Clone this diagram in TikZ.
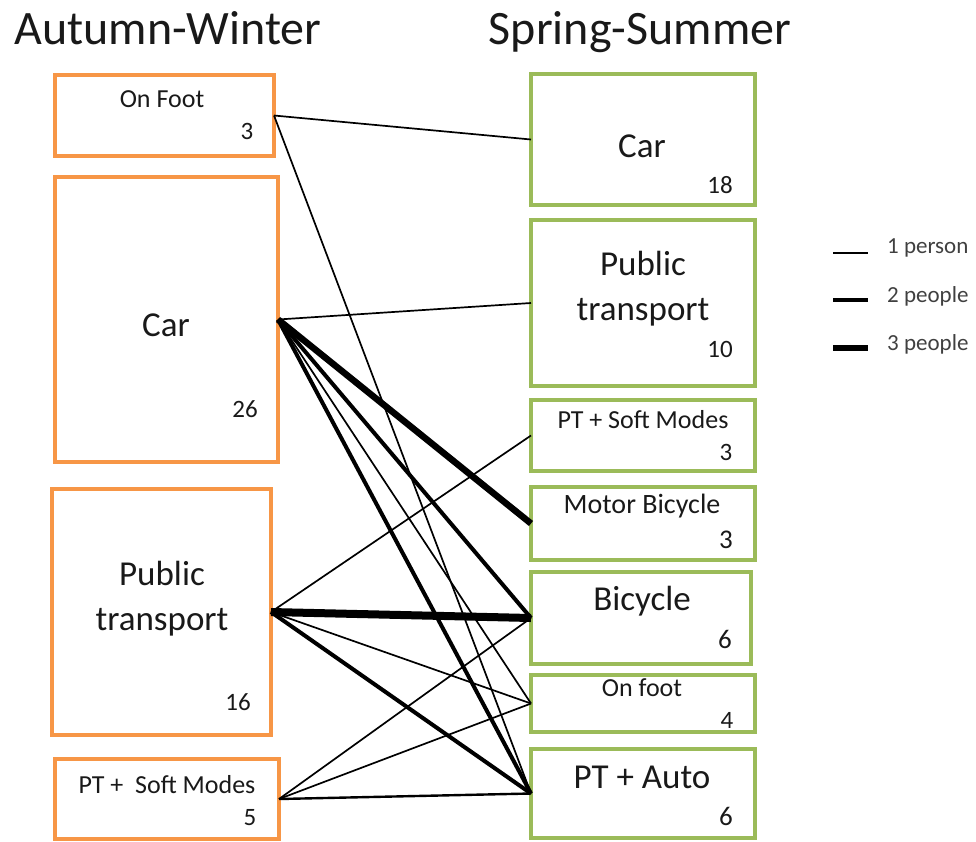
\documentclass[tikz,border=0pt]{standalone}
\usepackage{fontspec}
\setmainfont{Carlito}
\definecolor{awOrange}{HTML}{F79646}
\definecolor{ssGreen}{HTML}{9BBB59}

\begin{document}
\begin{tikzpicture}[x=1pt,y=-1pt,
  modebox/.style={rectangle, line width=4pt, outer sep=0pt, inner sep=0pt},
  awbox/.style={modebox, draw=awOrange},
  ssbox/.style={modebox, draw=ssGreen},
  txt/.style={anchor=base, inner sep=0pt, text=black!90},
  big/.style={txt, font=\fontsize{35}{40}\selectfont},
  mid/.style={txt, font=\fontsize{28}{32}\selectfont},
  small/.style={txt, font=\fontsize{26}{30}\selectfont},
  num/.style={txt, font=\fontsize{25}{30}\selectfont},
  bignum/.style={txt, font=\fontsize{27}{30}\selectfont},
  title/.style={txt, font=\fontsize{48}{52}\selectfont},
  legtxt/.style={anchor=base west, inner sep=0pt, text=black!75, font=\fontsize{23}{26}\selectfont},
  one/.style={line width=1.7pt},
  two/.style={line width=4pt},
  three/.style={line width=6.5pt},
  four/.style={line width=8pt}
]
\useasboundingbox (0,0) rectangle (976,841);

% column headings
\node[title] (hAW) at (168,44) {Autumn-Winter};
\node[title] (hSS) at (640,44) {Spring-Summer};

% Autumn-Winter modes
\node[awbox, minimum width=219pt, minimum height=81pt]  (lFoot)  at (164.5,115.5) {};
\node[awbox, minimum width=223pt, minimum height=285pt] (lCar)   at (166.5,319.5) {};
\node[awbox, minimum width=219pt, minimum height=246pt] (lPT)    at (161.5,612) {};
\node[awbox, minimum width=224pt, minimum height=80pt]  (lSoft)  at (167,799) {};

\node[small] (tlFoot) at (162,107) {On Foot};
\node[num]   (nlFoot) at (247,139) {3};
\node[big]   (tlCar)  at (166,336) {Car};
\node[num]   (nlCar)  at (245,417) {26};
\node[big]   (tlPTa)  at (162,585) {Public};
\node[big]   (tlPTb)  at (162,630) {transport};
\node[num]   (nlPT)   at (238,710) {16};
\node[small] (tlSoft) at (167,793) {PT +\ \ Soft Modes};
\node[num]   (nlSoft) at (250,825) {5};

% Spring-Summer modes
\node[ssbox, minimum width=224pt, minimum height=131pt] (rCar)   at (643,139.5) {};
\node[ssbox, minimum width=224pt, minimum height=166pt] (rPT)    at (643,303) {};
\node[ssbox, minimum width=224pt, minimum height=71pt]  (rSoft)  at (643,435.5) {};
\node[ssbox, minimum width=224pt, minimum height=73pt]  (rMotor) at (643,523.5) {};
\node[ssbox, minimum width=220pt, minimum height=92pt]  (rBike)  at (641,618) {};
\node[ssbox, minimum width=224pt, minimum height=57pt]  (rFoot)  at (643,703.5) {};
\node[ssbox, minimum width=224pt, minimum height=89pt]  (rAuto)  at (643,793.5) {};

\node[big]    (trCar)   at (642,157) {Car};
\node[num]    (nrCar)   at (720,193) {18};
\node[big]    (trPTa)   at (643,275) {Public};
\node[big]    (trPTb)   at (643,320) {transport};
\node[num]    (nrPT)    at (720,357) {10};
\node[small]  (trSoft)  at (643,428) {PT + Soft Modes};
\node[num]    (nrSoft)  at (726,460) {3};
\node[mid]    (trMotor) at (642,513) {Motor Bicycle};
\node[bignum] (nrMotor) at (726,548) {3};
\node[big]    (trBike)  at (642,610) {Bicycle};
\node[bignum] (nrBike)  at (725,648) {6};
\node[small]  (trFoot)  at (642,696) {On foot};
\node[num]    (nrFoot)  at (727,728) {4};
\node[big]    (trAuto)  at (642,788) {PT + Auto};
\node[bignum] (nrAuto)  at (726,825) {6};

% flows between seasons
\draw[one]   (lFoot.east) -- (rCar.west);
\draw[one]   (lFoot.east) -- (rAuto.west);
\draw[one]   (lCar.east)  -- (rPT.west);
\draw[three] (lCar.east)  -- (rMotor.west);
\draw[two]   (lCar.east)  -- (rBike.west);
\draw[one]   (lCar.east)  -- (rFoot.west);
\draw[two]   (lCar.east)  -- (rAuto.west);
\draw[one]   (lPT.east)   -- (rSoft.west);
\draw[four]  (lPT.east)   -- (rBike.west);
\draw[one]   (lPT.east)   -- (rFoot.west);
\draw[two]   (lPT.east)   -- (rAuto.west);
\draw[one]   (lSoft.east) -- (rBike.west);
\draw[one]   (lSoft.east) -- (rFoot.west);
\draw[line width=2.4pt] (lSoft.east) -- (rAuto.west);

% legend
\coordinate (k1a) at (833,253); \coordinate (k1b) at (868,253);
\coordinate (k2a) at (833,300); \coordinate (k2b) at (868,300);
\coordinate (k3a) at (833,348); \coordinate (k3b) at (868,348);
\draw[line width=2pt] (k1a) -- (k1b);
\draw[line width=4pt] (k2a) -- (k2b);
\draw[line width=6.5pt] (k3a) -- (k3b);
\node[legtxt] (l1) at (887,253) {1 person};
\node[legtxt] (l2) at (887,302) {2 people};
\node[legtxt] (l3) at (887,350) {3 people};
\end{tikzpicture}
\end{document}
